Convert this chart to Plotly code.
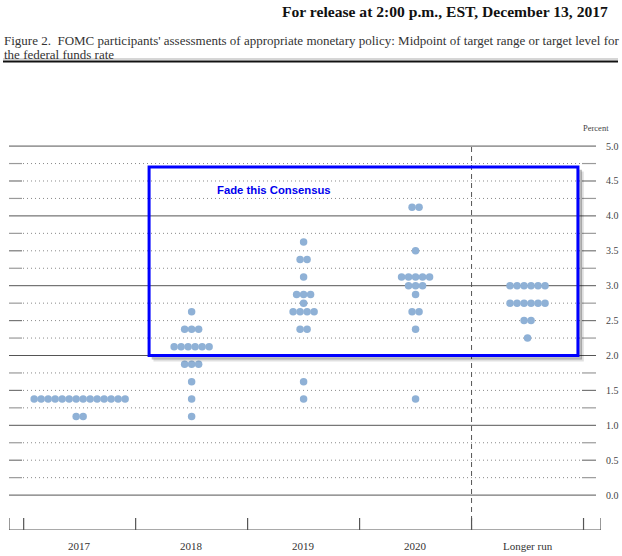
import plotly.graph_objects as go

# ---------------- data ----------------
categories = ["2017", "2018", "2019", "2020", "Longer run"]

rates_2017 = [1.125, 1.375]
counts_2017 = [2, 14]

rates_2018 = [1.125, 1.375, 1.625, 1.875, 2.125, 2.375, 2.625]
counts_2018 = [1, 1, 1, 3, 6, 3, 1]

rates_2019 = [1.375, 1.625, 2.375, 2.625, 2.75, 2.875, 3.125, 3.375, 3.625]
counts_2019 = [1, 1, 2, 4, 1, 3, 1, 2, 1]

rates_2020 = [1.375, 2.375, 2.625, 2.875, 3.0, 3.125, 3.5, 4.125]
counts_2020 = [1, 1, 2, 1, 3, 5, 1, 2]

rates_lr = [2.25, 2.5, 2.75, 3.0]
counts_lr = [1, 2, 6, 6]

ytick_vals = [0.0, 0.5, 1.0, 1.5, 2.0, 2.5, 3.0, 3.5, 4.0, 4.5, 5.0]
ytick_text = ["0.0", "0.5", "1.0", "1.5", "2.0", "2.5", "3.0", "3.5", "4.0", "4.5", "5.0"]

all_rates = [rates_2017, rates_2018, rates_2019, rates_2020, rates_lr]
all_counts = [counts_2017, counts_2018, counts_2019, counts_2020, counts_lr]

# ---------------- build dots ----------------
STEP = 0.0625  # horizontal spacing between dots (in category units)
xs, ys = [], []
for ci, (rates, counts) in enumerate(zip(all_rates, all_counts)):
    for r, n in zip(rates, counts):
        for i in range(n):
            xs.append(ci + (i - (n - 1) / 2) * STEP)
            ys.append(r)

fig = go.Figure()
fig.add_trace(go.Scatter(
    x=xs, y=ys, mode="markers",
    marker=dict(size=7.5, color="#8fb1d6", line=dict(width=0)),
    hoverinfo="y", showlegend=False, cliponaxis=False,
))

X0, X1 = -0.631, 4.656
Y0, Y1 = -0.5, 5.03
PLOT_W = 592.0
PLOT_H = 386.0
ML, MT = 9, 144
PX_PER_Y = 69.8

def px_to_paper(px):
    return (px - ML) / PLOT_W

def py_to_paper(py):
    return (MT + PLOT_H - py) / PLOT_H

shapes = []
# horizontal grid lines every 0.25
for k in range(21):
    v = k * 0.25
    if k % 4 == 0:
        shapes.append(dict(type="line", xref="paper", yref="y",
                           x0=px_to_paper(9), x1=px_to_paper(596), y0=v, y1=v,
                           line=dict(color="#555555", width=1), layer="below"))
    else:
        tc = "#777777" if k % 2 == 0 else "#9a9a9a"
        shapes.append(dict(type="line", xref="paper", yref="y",
                           x0=px_to_paper(9), x1=px_to_paper(22), y0=v, y1=v,
                           line=dict(color=tc, width=1.2), layer="below"))
        shapes.append(dict(type="line", xref="paper", yref="y",
                           x0=px_to_paper(23), x1=px_to_paper(581), y0=v, y1=v,
                           line=dict(color="#8a8a8a", width=1, dash="1px,3px"), layer="below"))
        shapes.append(dict(type="line", xref="paper", yref="y",
                           x0=px_to_paper(582), x1=px_to_paper(596), y0=v, y1=v,
                           line=dict(color=tc, width=1.2), layer="below"))

# bottom axis line
shapes.append(dict(type="line", xref="paper", yref="y", x0=0, x1=1, y0=Y0, y1=Y0,
                   line=dict(color="#555555", width=1.2)))
# ticks at category boundaries and end caps
tick_h = 12 / PX_PER_Y
for b in [X0, -0.5, 0.5, 1.5, 2.5, 3.5, 4.5, X1]:
    shapes.append(dict(type="line", xref="x", yref="y", x0=b, x1=b, y0=Y0, y1=Y0 + tick_h,
                       line=dict(color="#555555", width=1.2)))
# dashed separator before longer run
shapes.append(dict(type="line", xref="x", yref="y", x0=3.5, x1=3.5, y0=Y0, y1=5.0,
                   line=dict(color="#555555", width=1, dash="5px,4px"), layer="below"))

# blue box with soft shadow
bx0, bx1, by0, by1 = 0.62, 4.45, 2.0, 4.70
dx = 2 / 112
dy = 2 / PX_PER_Y
for off, col in [(2.2, "rgba(0,0,0,0.12)"), (1.3, "rgba(0,0,0,0.25)")]:
    ox = off * dx
    oy = off * dy
    shapes.append(dict(type="path", xref="x", yref="y",
                       path=f"M {bx0+ox} {by0-oy} L {bx1+ox} {by0-oy} L {bx1+ox} {by1-oy}",
                       line=dict(color=col, width=3)))
shapes.append(dict(type="rect", xref="x", yref="y", x0=bx0, x1=bx1, y0=by0, y1=by1,
                   line=dict(color="#0000ff", width=3)))

# double rule under caption
shapes.append(dict(type="line", xref="paper", yref="paper",
                   x0=px_to_paper(3), x1=px_to_paper(618), y0=py_to_paper(61.5), y1=py_to_paper(61.5),
                   line=dict(color="#111111", width=2)))
shapes.append(dict(type="line", xref="paper", yref="paper",
                   x0=px_to_paper(3), x1=px_to_paper(618), y0=py_to_paper(59), y1=py_to_paper(59),
                   line=dict(color="#777777", width=0.6)))

serif = "Liberation Serif, DejaVu Serif, serif"
annotations = [
    dict(text="<b>For release at 2:00 p.m., EST, December 13, 2017</b>",
         xref="paper", yref="paper", x=px_to_paper(610), y=py_to_paper(11),
         xanchor="right", yanchor="middle", showarrow=False,
         font=dict(family=serif, size=15.6, color="#111111")),
    dict(text="Figure 2.  FOMC participants' assessments of appropriate monetary policy: Midpoint of target range or target level for",
         xref="paper", yref="paper", x=px_to_paper(2), y=py_to_paper(41),
         xanchor="left", yanchor="middle", showarrow=False,
         font=dict(family=serif, size=13, color="#333333")),
    dict(text="the federal funds rate",
         xref="paper", yref="paper", x=px_to_paper(2), y=py_to_paper(54),
         xanchor="left", yanchor="middle", showarrow=False,
         font=dict(family=serif, size=13, color="#333333")),
    dict(text="Percent", xref="paper", yref="paper", x=px_to_paper(596), y=py_to_paper(128),
         xanchor="center", yanchor="middle", showarrow=False,
         font=dict(family=serif, size=8.5, color="#444444")),
    dict(text="<b>Fade this Consensus</b>", xref="x", yref="y", x=1.74, y=4.37,
         xanchor="center", yanchor="middle", showarrow=False,
         font=dict(family="Liberation Sans, Arial, sans-serif", size=11.3, color="#0000ee")),
]
# right-side percent labels
for v, t in zip(ytick_vals, ytick_text):
    annotations.append(dict(text=t, xref="paper", yref="y", x=px_to_paper(604), y=v,
                            xanchor="left", yanchor="middle", showarrow=False,
                            font=dict(family=serif, size=10, color="#444444")))
# category labels under the axis
for i, c in enumerate(categories):
    annotations.append(dict(text=c, xref="x", yref="paper", x=i, y=py_to_paper(546),
                            xanchor="center", yanchor="middle", showarrow=False,
                            font=dict(family=serif, size=11, color="#333333")))

fig.update_layout(
    width=622, height=556,
    margin=dict(l=ML, r=622 - ML - PLOT_W, t=MT, b=556 - MT - PLOT_H, pad=0, autoexpand=False),
    paper_bgcolor="white", plot_bgcolor="white",
    shapes=shapes, annotations=annotations,
    xaxis=dict(range=[X0, X1], showticklabels=False,
               showgrid=False, zeroline=False, showline=False, ticks="", automargin=False,
               fixedrange=True),
    yaxis=dict(range=[Y0, Y1], showticklabels=False, automargin=False,
               showgrid=False, zeroline=False, showline=False, ticks="", fixedrange=True),
)

fig.write_html(
    "out.html",
    config={"displayModeBar": False},
    post_script="document.body.style.margin='0';document.body.style.padding='0';",
)
